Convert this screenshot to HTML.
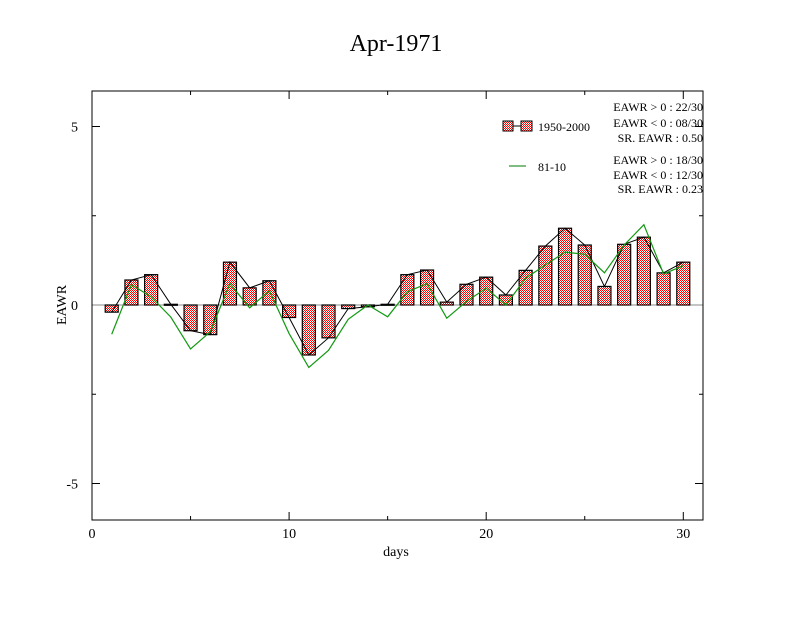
<!DOCTYPE html>
<html><head><meta charset="utf-8"><style>
body{margin:0;background:#fff}
text{font-family:"Liberation Serif",serif;fill:#000}
</style></head><body>
<svg id="c" width="792" height="612" xmlns="http://www.w3.org/2000/svg">
<defs>
<pattern id="chk" width="2" height="2" patternUnits="userSpaceOnUse">
<rect width="2" height="2" fill="#fff"/><rect width="1" height="1" fill="#f00"/><rect x="1" y="1" width="1" height="1" fill="#f00"/>
</pattern>
</defs>
<rect width="792" height="612" fill="#fff"/>
<text x="396" y="51" font-size="24" text-anchor="middle">Apr-1971</text>
<g id="plot"></g>
<rect x="92" y="91" width="611" height="429" fill="none" stroke="#000" stroke-width="1"/>
<text x="396" y="556" font-size="14" text-anchor="middle">days</text>
<text x="66" y="305" font-size="14" text-anchor="middle" transform="rotate(-90 66 305)">EAWR</text>
<g>
<rect x="503" y="121" width="10" height="10" fill="url(#chk)" stroke="#000"/>
<line x1="513" y1="126" x2="521" y2="126" stroke="#000"/>
<rect x="521" y="121" width="11" height="10" fill="url(#chk)" stroke="#000"/>
<text x="538" y="131" font-size="12">1950-2000</text>
<line x1="509" y1="166" x2="526" y2="166" stroke="#007700"/>
<text x="538" y="171" font-size="12">81-10</text>
</g>
<g font-size="12" text-anchor="end">
<text x="703" y="111">EAWR &gt; 0 : 22/30</text>
<text x="703" y="127">EAWR &lt; 0 : 08/30</text>
<text x="703" y="142">SR. EAWR :  0.50</text>
<text x="703" y="164">EAWR &gt; 0 : 18/30</text>
<text x="703" y="179">EAWR &lt; 0 : 12/30</text>
<text x="703" y="193">SR. EAWR :  0.23</text>
</g>
</svg>
<script>
const days=[1,2,3,4,5,6,7,8,9,10,11,12,13,14,15,16,17,18,19,20,21,22,23,24,25,26,27,28,29,30];
const barValues=[-0.2,0.7,0.85,0.02,-0.72,-0.83,1.2,0.48,0.68,-0.35,-1.4,-0.92,-0.1,-0.05,0.02,0.85,0.98,0.08,0.58,0.78,0.28,0.97,1.65,2.15,1.68,0.52,1.7,1.9,0.9,1.2];
const lineValues=[-0.82,0.57,0.23,-0.34,-1.23,-0.75,0.6,-0.08,0.4,-0.8,-1.75,-1.27,-0.4,0.0,-0.33,0.37,0.6,-0.37,0.1,0.47,0.0,0.75,1.12,1.48,1.42,0.9,1.68,2.25,0.87,1.1];
const xTicks=[0,10,20,30];
const yTicks=[-5,0,5];
const X=v=>92+v*(611/31);
const Y=v=>305-v*35.7;
const NS="http://www.w3.org/2000/svg";
const g=document.getElementById('plot');
function mk(t,a){const e=document.createElementNS(NS,t);for(const k in a)e.setAttribute(k,a[k]);g.appendChild(e);return e;}
// ticks
xTicks.forEach(t=>{
 const l1=mk('line',{x1:X(t),x2:X(t),y1:520,y2:512,stroke:'#000'});
 
 
 mk('line',{x1:X(t),x2:X(t),y1:91,y2:99,stroke:'#000'});
 const tx=mk('text',{x:X(t),y:538,'font-size':14,'text-anchor':'middle'});tx.textContent=t;
 
 
});
[5,15,25].forEach(t=>{mk('line',{x1:X(t),x2:X(t),y1:520,y2:516,stroke:'#000'});mk('line',{x1:X(t),x2:X(t),y1:91,y2:95,stroke:'#000'});});
yTicks.forEach(t=>{
 const l=mk('line',{x1:92,x2:100,y1:Y(t),y2:Y(t),stroke:'#000'});
 
 
 mk('line',{x1:703,x2:695,y1:Y(t),y2:Y(t),stroke:'#000'});
 const tx=mk('text',{x:78,y:Y(t)+5,'font-size':14,'text-anchor':'end'});tx.textContent=t;
 
 
});
[-2.5,2.5].forEach(t=>{mk('line',{x1:92,x2:96,y1:Y(t),y2:Y(t),stroke:'#000'});mk('line',{x1:703,x2:699,y1:Y(t),y2:Y(t),stroke:'#000'});});
mk('line',{x1:92,x2:703,y1:Y(0),y2:Y(0),stroke:'#888'});
// bars
days.forEach((d,i)=>{
 const v=barValues[i];const y0=Y(0),y1=Y(v);
 const r=mk('rect',{x:X(d)-6.5,y:Math.min(y0,y1),width:13,height:Math.max(1,Math.abs(y1-y0)),fill:'url(#chk)',stroke:'#000','stroke-width':1.2});
 
 
});
const bl=mk('polyline',{points:days.map((d,i)=>X(d)+','+Y(barValues[i])).join(' '),fill:'none',stroke:'#000','stroke-width':1});


const gl=mk('polyline',{points:days.map((d,i)=>X(d)+','+Y(lineValues[i])).join(' '),fill:'none',stroke:'#119911','stroke-width':1.2});


</script>
</body></html>
